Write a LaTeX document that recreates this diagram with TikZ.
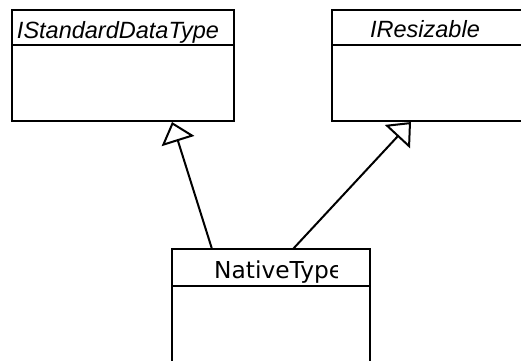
\documentclass[tikz,border=0pt]{standalone}
\usepackage{fontspec}
\setmainfont{DejaVu Sans}
\newfontfamily\lsans{Liberation Sans}
\usetikzlibrary{arrows.meta,calc}
\tikzset{
  classbox/.style={draw=black, line width=2pt, rectangle, inner sep=0pt, outer sep=0pt, anchor=north west},
  ititle/.style={font=\lsans\itshape\fontsize{23.5}{27}\selectfont, inner sep=0pt, anchor=base},
  ntitle/.style={font=\fontsize{23.3}{27}\selectfont, inner sep=0pt, anchor=base west},
  divider/.style={draw=black, line width=2pt},
  realize/.style={draw=black, line width=2pt, -{Triangle[open, length=20pt, width=34pt, line width=2pt]}}
}
\begin{document}
\begin{tikzpicture}[x=1pt, y=-1pt]
\useasboundingbox (0,0) rectangle (521,360);
\fill[white] (0,0) rectangle (521,360);
\clip (0,0) rectangle (521,360);
% boxes
\node[classbox, minimum width=222pt, minimum height=111pt] (std) at (12,10) {};
\node[classbox, minimum width=210pt, minimum height=111pt] (res) at (332,10) {};
\node[classbox, minimum width=198pt, minimum height=130pt] (nat) at (172,249) {};
% dividers
\draw[divider] ($(std.north west)+(0,35)$) -- ($(std.north east)+(0,35)$);
\draw[divider] ($(res.north west)+(0,35)$) -- ($(res.north east)+(0,35)$);
\draw[divider] ($(nat.north west)+(0,37)$) -- ($(nat.north east)+(0,37)$);
% titles
\node[ititle] (stdt) at (118,38) {IStandardDataType};
\node[ititle] (rest) at (425,37.5) {IResizable};
\begin{scope}
\clip ($(nat.north west)+(0,0)$) rectangle ($(nat.north west)+(165,36)$);
\node[ntitle] (natt) at (214,278.5) {NativeType};
\end{scope}
% realizations
\draw[realize] ($(nat.north west)+(40,0)$) -- ($(std.south west)+(160,1)$);
\draw[realize] ($(nat.north west)+(121,0)$) -- ($(res.south west)+(79,1)$);
\end{tikzpicture}
\end{document}
